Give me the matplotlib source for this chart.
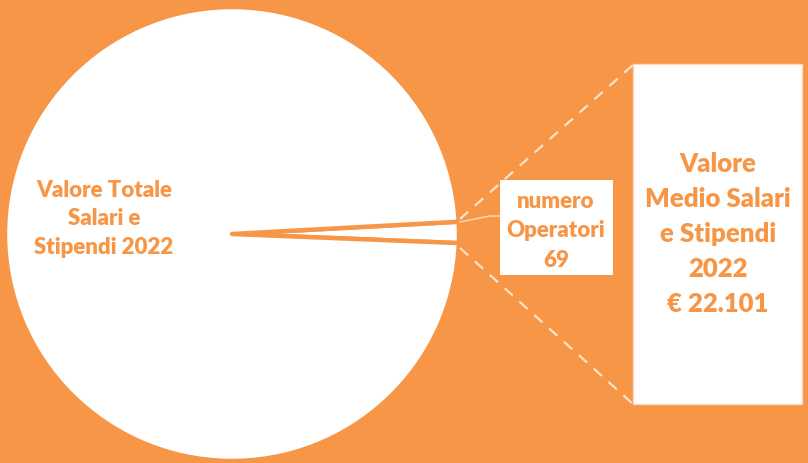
import matplotlib
matplotlib.use("Agg")
import matplotlib.pyplot as plt
from matplotlib.patches import Rectangle

# data
labels = ["numero Operatori 69", "Valore Totale Salari e Stipendi 2022"]
quote = [1.5, 98.5]
testo_torta = "Valore Totale\nSalari e\nStipendi 2022"
testo_box = "numero\nOperatori\n69"
testo_barra = "Valore\nMedio Salari\ne Stipendi\n2022\n€ 22.101"

arancio = "#F79646"
W, H = 808, 464

fig = plt.figure(figsize=(W / 100, H / 100), dpi=100, facecolor=arancio)
ax = fig.add_axes([0, 0, 1, 1])
ax.set_facecolor(arancio)

cx, cy, r = 232, 464 - 235, 227
ax.pie(quote, colors=["white", "white"], startangle=-2.3, counterclock=True,
       center=(cx, cy), radius=r,
       wedgeprops=dict(edgecolor=arancio, linewidth=3.2, joinstyle="round"))

ax.set_xlim(0, W)
ax.set_ylim(0, H)
ax.set_aspect("equal")
ax.axis("off")

# dashed connectors to the bar
ax.plot([460, 633], [464 - 220, 464 - 66], color="#FDE3CC", lw=1.6,
        dashes=(5, 4), solid_capstyle="butt")
ax.plot([460, 633], [464 - 249, 464 - 405], color="#FDE3CC", lw=1.6,
        dashes=(5, 4), solid_capstyle="butt")

# leader line for the label box
ax.plot([460, 490, 500], [464 - 223, 464 - 217, 464 - 217], color="#FBD3B3", lw=1.2)

# label box
ax.add_patch(Rectangle((500, 464 - 276), 113, 95, facecolor="white", edgecolor="none"))
# bar rectangle
ax.add_patch(Rectangle((633, 464 - 405), 169, 340, facecolor="white",
                       edgecolor="#FCD9BC", lw=1.0))

font = ["Lato", "DejaVu Sans"]
stile = dict(ha="center", va="center", multialignment="center", color=arancio,
             fontweight="heavy", family=font)
ax.text(104, 464 - 219, testo_torta, fontsize=16, linespacing=1.42, **stile)
ax.text(556, 464 - 231, testo_box, fontsize=16, linespacing=1.48, **stile)
ax.text(718, 464 - 234, testo_barra, fontsize=18.5, linespacing=1.55, **stile)

fig.savefig("out.png", dpi=100, facecolor=arancio)
